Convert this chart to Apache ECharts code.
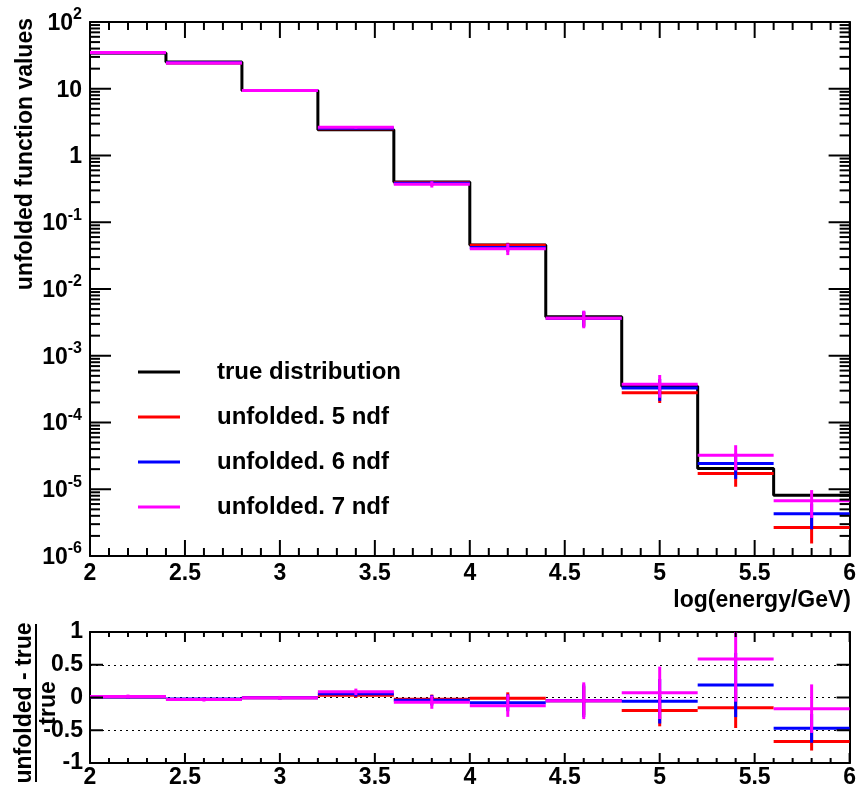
<!DOCTYPE html>
<html>
<head>
<meta charset="utf-8">
<script src="https://cdn.jsdelivr.net/npm/echarts@6/dist/echarts.min.js"></script>
<style>
  html, body { margin: 0; padding: 0; background: #fff; }
  #chart { width: 859px; height: 789px; }
</style>
</head>
<body>
<div id="chart"></div>
<script>
// Bin edges in log10(E/GeV)
const binEdges = [2.0, 2.4, 2.8, 3.2, 3.6, 4.0, 4.4, 4.8, 5.2, 5.6, 6.0];

// True spectrum, one value per bin
const trueValues = [34.4, 25.2, 9.44, 2.43, 0.40, 0.0457, 0.00385, 3.5e-4, 2.04e-5, 8.1e-6];

// Unfolded spectra and their uncertainties
const unfolded5 = [34.6, 24.4, 9.39, 2.51, 0.390, 0.0452, 0.00366, 2.80e-4, 1.72e-5, 2.67e-6];
const errors5   = [0.69, 0.50, 0.19, 0.097, 0.028, 0.0041, 0.00085, 8.4e-5, 6.3e-6, 1.13e-6];
const unfolded6 = [34.7, 24.6, 9.39, 2.57, 0.383, 0.0420, 0.00366, 3.30e-4, 2.43e-5, 4.29e-6];
const errors6   = [0.86, 0.63, 0.24, 0.11, 0.032, 0.0059, 0.00096, 1.19e-4, 1.0e-5, 1.78e-6];
const unfolded7 = [34.9, 24.4, 9.39, 2.64, 0.371, 0.0400, 0.00366, 3.75e-4, 3.24e-5, 6.72e-6];
const errors7   = [1.03, 0.76, 0.28, 0.12, 0.040, 0.0078, 0.00108, 1.4e-4, 1.33e-5, 3.0e-6];

// Tick positions of the frames
const xMajorTicks = [2, 2.5, 3, 3.5, 4, 4.5, 5, 5.5, 6];
const xMinorTicks = [2.1, 2.2, 2.3, 2.4, 2.6, 2.7, 2.8, 2.9, 3.1, 3.2, 3.3, 3.4, 3.6, 3.7, 3.8, 3.9,
                     4.1, 4.2, 4.3, 4.4, 4.6, 4.7, 4.8, 4.9, 5.1, 5.2, 5.3, 5.4, 5.6, 5.7, 5.8, 5.9];
const logDecades = [1e-6, 1e-5, 1e-4, 1e-3, 1e-2, 1e-1, 1, 10, 100];
const logSubdivisions = [2, 3, 4, 5, 6, 7, 8, 9];
const ratioTicks = [-1, -0.5, 0, 0.5, 1];

const seriesNames = ['true distribution', 'unfolded. 5 ndf', 'unfolded. 6 ndf', 'unfolded. 7 ndf'];
const seriesColors = ['#000000', '#ff0000', '#0000ff', '#ff00ff'];

const FONT = '"Liberation Sans", Arial, Helvetica, sans-serif';
const FS = 23;

// step-histogram points: left edge of each bin, plus closing right edge
const truePoints = trueValues.map((v, i) => [binEdges[i], v]);
truePoints.push([binEdges[binEdges.length - 1], trueValues[trueValues.length - 1]]);

function binRows(vals, errs) {
  return vals.map((v, i) => [binEdges[i], binEdges[i + 1], v, errs[i]]);
}
function ratioRows(vals, errs) {
  return vals.map((v, i) => [binEdges[i], binEdges[i + 1],
    (v - trueValues[i]) / trueValues[i], errs[i] / trueValues[i]]);
}

// horizontal bin line + vertical error bar, clipped to the plot frame
function errorBarRenderer(color, isLog) {
  return function (params, api) {
    const cs = params.coordSys;
    const lo = api.value(0), hi = api.value(1), v = api.value(2), e = api.value(3);
    const cx = (lo + hi) / 2;
    const clampY = y => Math.max(cs.y, Math.min(cs.y + cs.height, y));
    const a = api.coord([lo, v]);
    const b = api.coord([hi, v]);
    let lowV = v - e;
    if (isLog && lowV <= 0) lowV = 1e-12;
    const t = api.coord([cx, v + e]);
    const d = api.coord([cx, lowV]);
    const st = { stroke: color, lineWidth: 3 };
    return {
      type: 'group',
      children: [
        { type: 'line', shape: { x1: a[0], y1: clampY(a[1]), x2: b[0], y2: clampY(b[1]) }, style: st },
        { type: 'line', shape: { x1: t[0], y1: clampY(t[1]), x2: d[0], y2: clampY(d[1]) }, style: st }
      ]
    };
  };
}

// Frame tick rows: [x, x2, y, length, kind]; kind 0 = tick on the x frames, 1 = on the y frames
function tickRows(yMid, xMaj, xMin, yList) {
  const rows = [];
  xMajorTicks.forEach(v => rows.push([v, v, yMid, xMaj, 0]));
  xMinorTicks.forEach(v => rows.push([v, v, yMid, xMin, 0]));
  yList.forEach(([v, len]) => rows.push([2, 6, v, len, 1]));
  return rows;
}
function tickRenderer(params, api) {
  const cs = params.coordSys;
  const len = api.value(3), kind = api.value(4);
  const p = api.coord([api.value(0), api.value(2)]);
  const st = { stroke: '#000000', lineWidth: 2 };
  const lines = [];
  if (kind === 0) {
    const x = p[0];
    lines.push({ type: 'line', shape: { x1: x, y1: cs.y + cs.height, x2: x, y2: cs.y + cs.height - len }, style: st });
    lines.push({ type: 'line', shape: { x1: x, y1: cs.y, x2: x, y2: cs.y + len }, style: st });
  } else {
    const y = p[1];
    lines.push({ type: 'line', shape: { x1: cs.x, y1: y, x2: cs.x + len, y2: y }, style: st });
    lines.push({ type: 'line', shape: { x1: cs.x + cs.width, y1: y, x2: cs.x + cs.width - len, y2: y }, style: st });
  }
  return { type: 'group', children: lines };
}

const topY = [];
logDecades.forEach((d, i) => {
  topY.push([d, 21]);
  if (i < logDecades.length - 1) logSubdivisions.forEach(k => topY.push([k * d, 10]));
});
const bottomY = ratioTicks.map(v => [v, 13]);

const labelStyle = { color: '#000', fontFamily: FONT, fontSize: FS, fontWeight: 'bold' };
const axisLine = { show: true, onZero: false, lineStyle: { color: '#000', width: 2 } };

function xAxisDef(grid, pos, showLabel, margin) {
  return {
    type: 'value', gridIndex: grid, position: pos, min: 2, max: 6, interval: 0.5,
    axisLine: axisLine,
    axisTick: { show: false },
    minorTick: { show: false },
    splitLine: { show: false },
    axisLabel: Object.assign({ show: showLabel, margin: margin }, labelStyle)
  };
}

function powLabel(val) {
  const p = Math.round(Math.log10(val));
  if (p === 0) return '{b|1}';
  if (p === 1) return '{b|10}';
  return '{b|10}{s|' + p + '}';
}

const logLabel = Object.assign({
  margin: 8,
  formatter: powLabel,
  rich: {
    b: { fontFamily: FONT, fontSize: FS, fontWeight: 'bold', color: '#000', lineHeight: 26, verticalAlign: 'bottom' },
    s: { fontFamily: FONT, fontSize: 16, fontWeight: 'bold', color: '#000', lineHeight: 26, verticalAlign: 'bottom', padding: [0, 0, 12, 0] }
  }
}, labelStyle);

function logAxisDef(pos, showLabel) {
  return {
    type: 'log', logBase: 10, gridIndex: 0, position: pos, min: 1e-6, max: 1e2, splitNumber: 8,
    axisLine: axisLine,
    axisTick: { show: false },
    minorTick: { show: false },
    splitLine: { show: false },
    axisLabel: showLabel ? logLabel : { show: false }
  };
}

function ratioAxisDef(pos, showLabel) {
  return {
    type: 'value', gridIndex: 1, position: pos, min: -1, max: 1, interval: 0.5,
    axisLine: axisLine,
    axisTick: { show: false },
    splitLine: showLabel ? { show: true, lineStyle: { color: '#000', width: 1, type: [2, 4] } } : { show: false },
    axisLabel: Object.assign({ show: showLabel, margin: 7, formatter: v => String(v) }, labelStyle)
  };
}

const unfoldedSets = [
  [unfolded5, errors5],
  [unfolded6, errors6],
  [unfolded7, errors7]
];

const series = [
  {
    type: 'custom', name: 'ticks upper', xAxisIndex: 0, yAxisIndex: 0,
    renderItem: tickRenderer, encode: { x: [0, 1], y: [2] },
    data: tickRows(1, 16, 8, topY), z: 8
  },
  {
    type: 'custom', name: 'ticks lower', xAxisIndex: 2, yAxisIndex: 2,
    renderItem: tickRenderer, encode: { x: [0, 1], y: [2] },
    data: tickRows(0, 10, 5, bottomY), z: 8
  },
  {
    type: 'line', name: seriesNames[0], xAxisIndex: 0, yAxisIndex: 0, step: 'end',
    showSymbol: false, symbol: 'none', data: truePoints,
    lineStyle: { color: seriesColors[0], width: 3 }, itemStyle: { color: seriesColors[0] },
    z: 2, animation: false
  }
];
unfoldedSets.forEach((set, k) => {
  const color = seriesColors[k + 1];
  series.push({
    type: 'custom', name: seriesNames[k + 1], xAxisIndex: 0, yAxisIndex: 0,
    renderItem: errorBarRenderer(color, true), itemStyle: { color: color },
    encode: { x: [0, 1], y: [2] }, data: binRows(set[0], set[1]), z: 3 + k
  });
  series.push({
    type: 'custom', name: seriesNames[k + 1], xAxisIndex: 2, yAxisIndex: 2,
    renderItem: errorBarRenderer(color, false), itemStyle: { color: color },
    encode: { x: [0, 1], y: [2] }, data: ratioRows(set[0], set[1]), z: 3 + k
  });
});

const titleElements = [
  {
    type: 'text', x: 851, y: 601,
    style: { text: 'log(energy/GeV)', align: 'right', verticalAlign: 'middle',
      font: 'bold ' + FS + 'px ' + FONT, fill: '#000' }
  },
  {
    type: 'text', x: 26, y: 18, rotation: Math.PI / 2,
    style: { text: 'unfolded function values', align: 'right', verticalAlign: 'middle',
      font: 'bold ' + FS + 'px ' + FONT, fill: '#000' }
  },
  {
    type: 'text', x: 25, y: 703, rotation: Math.PI / 2,
    style: { text: 'unfolded - true', align: 'center', verticalAlign: 'middle',
      font: 'bold ' + FS + 'px ' + FONT, fill: '#000' }
  },
  {
    type: 'line', shape: { x1: 36, y1: 624, x2: 36, y2: 782 },
    style: { stroke: '#000', lineWidth: 2 }
  },
  {
    type: 'text', x: 49, y: 703, rotation: Math.PI / 2,
    style: { text: 'true', align: 'center', verticalAlign: 'middle',
      font: 'bold ' + FS + 'px ' + FONT, fill: '#000' }
  }
];

const chart = echarts.init(document.getElementById('chart'), null, { renderer: 'canvas' });
chart.setOption({
  animation: false,
  backgroundColor: '#fff',
  grid: [
    { left: 90, top: 22, width: 761, height: 534 },
    { left: 90, top: 632, width: 761, height: 139 }
  ],
  xAxis: [
    xAxisDef(0, 'bottom', true, 6),
    xAxisDef(0, 'top', false, 6),
    xAxisDef(1, 'bottom', true, 3),
    xAxisDef(1, 'top', false, 3)
  ],
  yAxis: [
    logAxisDef('left', true),
    logAxisDef('right', false),
    ratioAxisDef('left', true),
    ratioAxisDef('right', false)
  ],
  legend: {
    left: 133, top: 355, orient: 'vertical',
    itemWidth: 42, itemHeight: 3, itemGap: 21, icon: 'rect',
    selectedMode: false,
    data: seriesNames,
    formatter: '{t|{name}}',
    textStyle: {
      color: '#000', fontFamily: FONT, fontSize: 24, fontWeight: 'bold',
      rich: { t: { fontFamily: FONT, fontSize: 24, fontWeight: 'bold', color: '#000', padding: [0, 0, 0, 32] } }
    }
  },
  graphic: { elements: titleElements },
  series: series
});
</script>
</body>
</html>
